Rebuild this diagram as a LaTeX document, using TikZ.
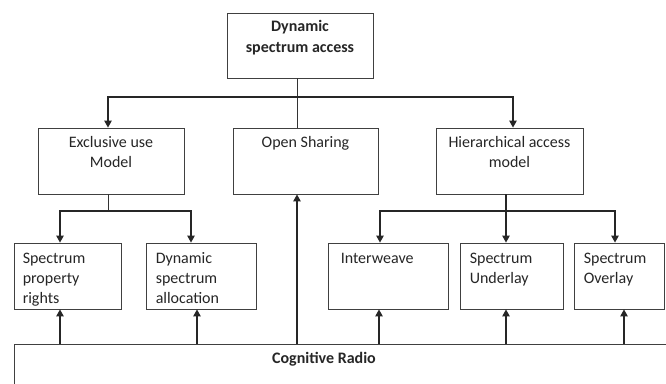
\documentclass[tikz,border=0pt]{standalone}
\usepackage{fontspec}
\setmainfont{Carlito}
\usetikzlibrary{arrows.meta, positioning, calc}
\tikzstyle{box}   = [rectangle, draw=black!75, line width=0.9pt, inner sep=0pt, minimum height=66pt]
\tikzstyle{txt}   = [inner sep=0pt, align=center, font=\fontsize{16}{20}\selectfont, text=black!85]
\tikzstyle{ltxt}  = [inner sep=0pt, align=left, font=\fontsize{16}{20}\selectfont, text=black!85]
\tikzstyle{line}  = [line width=1pt, draw=black!80]
\tikzstyle{arrow} = [line width=1.1pt, draw=black!85, -{Triangle[length=7pt,width=7.5pt]}]

\begin{document}
\begin{tikzpicture}[x=1pt, y=-1pt]

  \fill[white] (0,0) rectangle (666,383);
  \useasboundingbox (0,0) rectangle (666,383);
  \clip (0,0) rectangle (666,383);

  % --- Top ---
  \node (dsa) [box, minimum width=146pt, minimum height=65pt] at (300,45.5) {};
  \node (dsa_t) [txt, font=\fontsize{16}{21}\selectfont\bfseries, anchor=base]
                at ([yshift=-40pt]dsa.north) {Dynamic\\spectrum access};

  % --- Access models ---
  \node (excl) [box, minimum width=146pt] at (111,161) {};
  \node (excl_t) [txt, anchor=base] at ([yshift=-40pt]excl.north) {Exclusive use\\Model};
  \node (open) [box, minimum width=145pt] at (305.5,161) {};
  \node (open_t) [txt, anchor=base] at ([yshift=-20pt]open.north) {Open Sharing};
  \node (hier) [box, minimum width=147pt] at (509.5,161) {};
  \node (hier_t) [txt, anchor=base] at ([yshift=-40pt]hier.north) {Hierarchical access\\model};

  % --- Sub models ---
  \node (spr) [box, minimum width=107pt] at (67.5,276) {};
  \node (spr_t) [ltxt, anchor=base west] at ([xshift=9pt,yshift=-61pt]spr.north west)
                {Spectrum\\property\\rights};
  \node (dsalloc) [box, minimum width=110pt] at (201,276) {};
  \node (dsalloc_t) [ltxt, anchor=base west] at ([xshift=10pt,yshift=-61pt]dsalloc.north west)
                {Dynamic\\spectrum\\allocation};
  \node (inter) [box, minimum width=120pt] at (388,276) {};
  \node (inter_t) [ltxt, anchor=base west] at ([xshift=13pt,yshift=-21pt]inter.north west)
                {Interweave};
  \node (under) [box, minimum width=103pt] at (511.5,276) {};
  \node (under_t) [ltxt, anchor=base west] at ([xshift=10pt,yshift=-41pt]under.north west)
                {Spectrum\\Underlay};
  \node (over) [box, minimum width=90pt] at (619,276) {};
  \node (over_t) [ltxt, anchor=base west] at ([xshift=10pt,yshift=-41pt]over.north west)
                {Spectrum\\Overlay};

  % --- Cognitive Radio ---
  \node (cr) [box, minimum width=655pt, minimum height=51pt] at (341.5,369.5) {};
  \node (cr_t) [txt, font=\fontsize{16}{20}\selectfont\bfseries, anchor=base]
               at (324,363) {Cognitive Radio};

  % Arrows
  \coordinate (j1) at (297,97);
  \coordinate (j2) at (108,211);
  \coordinate (j3) at (506,211);

  \draw[line] (dsa.south -| j1) -- (open.north -| j1);
  \draw[arrow] (j1) -| ([xshift=-3pt]excl.north);
  \draw[arrow] (j1) -| ([xshift=3.5pt]hier.north);

  \draw[line] ([xshift=-3pt]excl.south) -- (j2);
  \draw[arrow] (j2) -| ([xshift=-7.5pt]spr.north);
  \draw[arrow] (j2) -| ([xshift=-10pt]dsalloc.north);

  \draw[arrow] ([xshift=-3.5pt]hier.south) -- ([xshift=-5.5pt]under.north);
  \draw[arrow] (j3) -| ([xshift=-8pt]inter.north);
  \draw[arrow] (j3) -| ([xshift=-4pt]over.north);

  \draw[arrow] ([xshift=-7.5pt]spr.south |- cr.north) -- ([xshift=-7.5pt]spr.south);
  \draw[arrow] ([xshift=-4pt]dsalloc.south |- cr.north) -- ([xshift=-4pt]dsalloc.south);
  \draw[arrow] ([xshift=-8.5pt]open.south |- cr.north) -- ([xshift=-8.5pt]open.south);
  \draw[arrow] ([xshift=-9pt]inter.south |- cr.north) -- ([xshift=-9pt]inter.south);
  \draw[arrow] ([xshift=-5.5pt]under.south |- cr.north) -- ([xshift=-5.5pt]under.south);
  \draw[arrow] ([xshift=5pt]over.south |- cr.north) -- ([xshift=5pt]over.south);

\end{tikzpicture}
\end{document}
